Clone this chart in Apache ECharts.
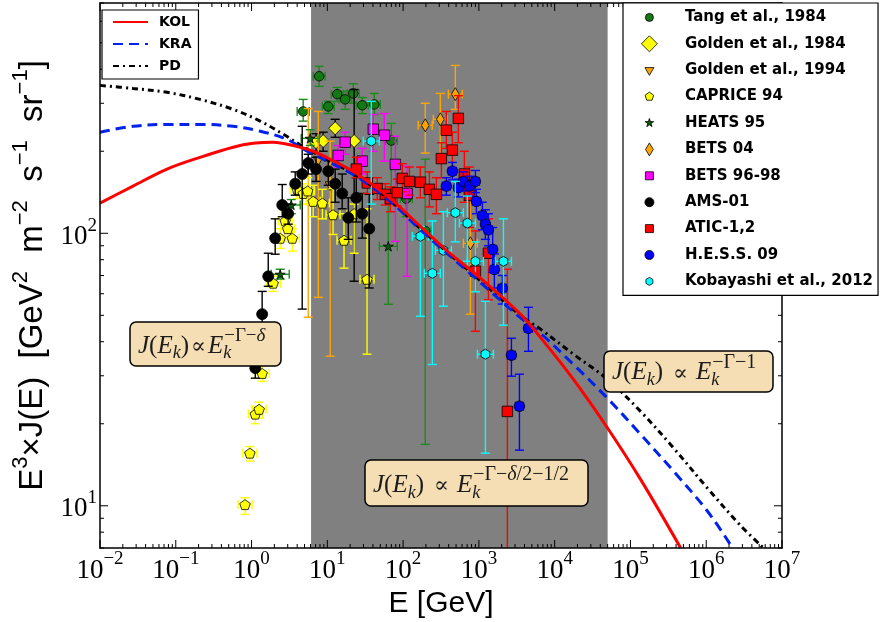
<!DOCTYPE html>
<html>
<head>
<meta charset="utf-8">
<title>Electron spectrum E^3 J(E)</title>
<script src="https://cdn.jsdelivr.net/npm/echarts@6.0.0/dist/echarts.min.js"></script>
<style>
  html, body { margin: 0; padding: 0; background: #fff; }
  #chart { width: 884px; height: 622px; }
</style>
</head>
<body>
<div id="chart"></div>
<script>
// ---------------- data ----------------
// Energy band shaded in grey (GeV)
const shadeRange = [6.1, 50000];

// Model curves (E in GeV, E^3 J(E))
const kolE = [0.01, 0.0273, 0.0767, 0.209, 0.571, 1.05, 1.93, 3.55, 6.5, 10.9, 24.8, 67.8, 169, 384, 1047, 3530, 6490, 17700, 49800, 136000, 460000];
const kolV = [129, 149, 172, 190, 207, 214, 216, 210, 200, 187, 165, 134, 106, 86, 68.4, 50.5, 41.5, 29.1, 19.3, 12.5, 7.0];
const kraE = [0.01, 0.0273, 0.0767, 0.209, 0.571, 1.30, 2.95, 5.42, 10, 24.8, 67.8, 169, 1047, 3530, 6490, 17700, 49800, 136000, 370000, 1040000, 2230000];
const kraV = [235, 247, 251, 251, 247, 237, 221, 200, 184, 161, 131, 103, 66, 49, 43, 33, 24.8, 18.3, 13.4, 9.55, 7.0];
const pdE = [0.01, 0.0273, 0.0767, 0.209, 0.571, 1.30, 2.62, 4.8, 10, 24.8, 67.8, 169, 1047, 3530, 6490, 17700, 49800, 136000, 370000, 1040000, 2800000, 5700000];
const pdV = [349, 340, 329, 310, 285, 258, 231, 208, 186, 162, 132, 104, 67, 50, 44.5, 36.0, 29.1, 22.2, 16.3, 11.6, 8.5, 7.0];

// Measurements: energy, E^3 J(E), lower and upper error bounds
const tangE  = [4.8, 7.8, 10.3, 13.5, 17.2, 22, 28.9, 41.7, 69.8, 110, 196];
const tangV  = [280, 377, 292, 324, 310, 326, 295, 297, 219, 134, 102];
const tangLo = [258, 346, 275, 305, 285, 300, 275, 273, 131, 115, 16.8];
const tangHi = [310, 410, 305, 343, 332, 354, 315, 326, 253, 155, 187];

const golden84E  = [7.1, 8.8, 12.7, 22.6];
const golden84V  = [216, 218, 243, 218];
const golden84Lo = [200, 200, 225, 66.7];
const golden84Hi = [232, 235, 262, 337];

const golden94E  = [5.6, 7.6, 10.9];
const golden94V  = [176, 184, 149];
const golden94Lo = [49.2, 58.2, 35.4];
const golden94Hi = [287, 280, 218];

const capriceE  = [0.82, 0.95, 1.12, 1.26, 1.38, 1.93, 2.39, 2.78, 3.0, 3.45, 4.0, 4.8, 5.5, 6.5, 8.6, 11.9, 16.6, 22.6, 33.4];
const capriceV  = [10.1, 15.6, 21.7, 22.6, 30.6, 65.6, 95.9, 111, 104, 95.9, 145, 140, 143, 131, 129, 117, 94.3, 118, 67.8];
const capriceLo = [9.3, 14.6, 20, 21, 28.6, 61.2, 88, 103, 97, 86, 134, 128, 128, 115, 113, 99, 74.5, 84.5, 36];
const capriceHi = [10.7, 16.5, 23, 24, 32.6, 69.6, 104, 120, 112, 104, 157, 152, 160, 150, 145, 146, 118, 128, 123];

const heatsE  = [2.39, 3.34, 5.94, 63.8];
const heatsV  = [70.7, 127, 223, 89.6];
const heatsLo = [67.9, 118, 210, 54.9];
const heatsHi = [73.8, 133, 240, 134];

const bets04E  = [196, 310, 489, 772];
const bets04V  = [249, 262, 324, 91.9];
const bets04Lo = [197, 184, 285, 50.5];
const bets04Hi = [300, 326, 413, 133];

const bets9698E  = [13.9, 17.2, 28.9, 40.4, 56.5, 79, 113];
const bets9698V  = [193, 216, 184, 241, 229, 179, 140];
const bets9698Lo = [175, 195, 165, 200, 184, 93.4, 69.6];
const bets9698Hi = [210, 235, 205, 273, 275, 227, 176];

const amsE  = [1.12, 1.38, 1.66, 2.05, 2.54, 3.04, 3.77, 4.66, 5.6, 7.1, 10.3, 12.7, 15.7, 18.9, 24.1, 28.9, 35.7];
const amsV  = [32, 50.5, 69.5, 95.9, 127, 118, 152, 165, 181, 172, 169, 152, 140, 114, 135, 118, 104];
const amsLo = [29.4, 43, 63.9, 83.8, 115, 108, 138, 52.7, 165, 155, 150, 130, 123, 95, 110, 96, 63];
const amsHi = [34.5, 61.2, 84.5, 113, 151, 128, 168, 247, 195, 190, 185, 172, 165, 135, 160, 140, 139];

const aticE  = [24.1, 33.7, 45.6, 58.2, 68, 83.7, 97.5, 121, 169, 222, 275, 320, 372, 447, 536, 643, 750, 899, 1337, 2377];
const aticV  = [172, 153, 146, 139, 134, 141, 159, 155, 154, 145, 139, 188, 239, 202, 264, 165, 138, 72.6, 84.5, 22.2];
const aticLo = [160, 140, 133, 127, 120, 126, 142, 138, 135, 125, 118, 160, 205, 170, 215, 130, 105, 43.7, 57, 3];
const aticHi = [190, 168, 160, 152, 148, 158, 180, 175, 175, 168, 160, 215, 280, 235, 320, 200, 175, 102, 113, 73.8];

const hessE  = [372, 447, 536, 624, 750, 899, 927, 1112, 1219, 1337, 1520, 1600, 2042, 2687, 3428, 4508];
const hessV  = [149, 169, 147, 155, 149, 155, 131, 116, 108, 103, 87.3, 73.7, 62.9, 35.7, 23.2, 44.8];
const hessLo = [138, 157, 136, 143, 137, 141, 118, 103, 95, 90, 72, 63, 55, 29.9, 16, 36.9];
const hessHi = [160, 182, 158, 168, 162, 170, 145, 130, 122, 118, 105, 84, 70, 41.2, 30.4, 53.5];

const kobE  = [38, 169, 243, 340, 489, 705, 899, 1219, 2108];
const kobV  = [218, 97.5, 71.3, 86.6, 119, 109, 78.9, 36, 78.9];
const kobLo = [128, 49.6, 33, 54, 93, 79, 61, 15.6, 46];
const kobHi = [305, 106, 111, 120, 155, 137, 93, 56.3, 113];

// ---------------- styling helpers ----------------
const MATH_FONT = '"Liberation Serif", "DejaVu Serif", serif';
const SANS_FONT = '"Liberation Sans", Arial, sans-serif';
const LEGEND_FONT = '"DejaVu Sans", sans-serif';

const SHAPES = {
  circle: 'M10,0A10,10,0,1,1,-10,0A10,10,0,1,1,10,0Z',
  square: 'M-10,-10L10,-10L10,10L-10,10Z',
  diamond: 'M0,-10L10,0L0,10L-10,0Z',
  thinDiamond: 'M0,-10L6,0L0,10L-6,0Z',
  triDown: 'M-10,-5.8L10,-5.8L0,11.5Z',
  pentagon: 'M0,-10L9.511,-3.09L5.878,8.09L-5.878,8.09L-9.511,-3.09Z',
  star: 'M0,-10L2.245,-3.09L9.511,-3.09L3.633,1.18L5.878,8.09L0,3.82L-5.878,8.09L-3.633,1.18L-9.511,-3.09L-2.245,-3.09Z',
  hexagon: 'M0,-10L8.66,-5L8.66,5L0,10L-8.66,5L-8.66,-5Z'
};
const LEGEND_BOX = 17;
// legend icon: shape drawn at `px` pixels inside a fixed icon box
function legendIcon(shape, px) {
  const h = (10 * LEGEND_BOX / px).toFixed(2);
  return 'path://M-' + h + ',-' + h + 'M' + h + ',' + h + SHAPES[shape];
}

const experiments = [
  { name: 'Tang et al., 1984', E: tangE, V: tangV, lo: tangLo, hi: tangHi, symbol: 'path://' + SHAPES.circle, size: 9.5, fill: '#127a12', bar: '#1d8a1d', hw: 6, icon: legendIcon('circle', 8) },
  { name: 'Golden et al., 1984', E: golden84E, V: golden84V, lo: golden84Lo, hi: golden84Hi, symbol: 'diamond', size: 13, fill: '#ffff00', bar: '#000000', hw: 0, icon: legendIcon('diamond', 16) },
  { name: 'Golden et al., 1994', E: golden94E, V: golden94V, lo: golden94Lo, hi: golden94Hi, symbol: 'path://' + SHAPES.triDown, size: 10, fill: '#ffa500', bar: '#ffa500', hw: 0, icon: legendIcon('triDown', 9) },
  { name: 'CAPRICE 94', E: capriceE, V: capriceV, lo: capriceLo, hi: capriceHi, symbol: 'path://' + SHAPES.pentagon, size: 10.5, fill: '#ffff00', bar: '#ffff00', hw: 7, icon: legendIcon('pentagon', 9) },
  { name: 'HEATS 95', E: heatsE, V: heatsV, lo: heatsLo, hi: heatsHi, symbol: 'path://' + SHAPES.star, size: 10, fill: '#0a5a0a', bar: '#1d8a1d', hw: 9, icon: legendIcon('star', 9) },
  { name: 'BETS 04', E: bets04E, V: bets04V, lo: bets04Lo, hi: bets04Hi, symbol: 'path://' + SHAPES.thinDiamond, size: 13, fill: '#ffa500', bar: '#ffa500', hw: 7, icon: legendIcon('thinDiamond', 13) },
  { name: 'BETS 96-98', E: bets9698E, V: bets9698V, lo: bets9698Lo, hi: bets9698Hi, symbol: 'rect', size: 10.5, fill: '#ff00ff', bar: '#ff00ff', hw: 0, icon: legendIcon('square', 8) },
  { name: 'AMS-01', E: amsE, V: amsV, lo: amsLo, hi: amsHi, symbol: 'path://' + SHAPES.circle, size: 11, fill: '#000000', bar: '#000000', hw: 0, icon: legendIcon('circle', 9) },
  { name: 'ATIC-1,2', E: aticE, V: aticV, lo: aticLo, hi: aticHi, symbol: 'rect', size: 10.5, fill: '#ff0000', bar: '#ff0000', hw: 3, icon: legendIcon('square', 8) },
  { name: 'H.E.S.S. 09', E: hessE, V: hessV, lo: hessLo, hi: hessHi, symbol: 'path://' + SHAPES.circle, size: 10.5, fill: '#0000ff', bar: '#0000ff', hw: 4, icon: legendIcon('circle', 9) },
  { name: 'Kobayashi et al., 2012', E: kobE, V: kobV, lo: kobLo, hi: kobHi, symbol: 'path://' + SHAPES.hexagon, size: 10, fill: '#00ffff', bar: '#00ffff', hw: 8, icon: legendIcon('hexagon', 8) }
];

function zip(xs, ys) { return xs.map((x, i) => [x, ys[i]]); }

// error bars with caps, vertical (lo..hi) and an optional horizontal bar
function errorBars(color, hw) {
  const cap = 4.5;
  return function (params, api) {
    const e = api.value(0), v = api.value(1);
    const c = api.coord([e, v]);
    const top = api.coord([e, api.value(3)])[1];
    const bot = api.coord([e, api.value(2)])[1];
    const st = { stroke: color, lineWidth: 1.4 };
    const kids = [
      { type: 'line', shape: { x1: c[0], y1: top, x2: c[0], y2: bot }, style: st },
      { type: 'line', shape: { x1: c[0] - cap, y1: top, x2: c[0] + cap, y2: top }, style: st },
      { type: 'line', shape: { x1: c[0] - cap, y1: bot, x2: c[0] + cap, y2: bot }, style: st }
    ];
    if (hw > 0) {
      kids.push({ type: 'line', shape: { x1: c[0] - hw, y1: c[1], x2: c[0] + hw, y2: c[1] }, style: st });
      kids.push({ type: 'line', shape: { x1: c[0] - hw, y1: c[1] - cap, x2: c[0] - hw, y2: c[1] + cap }, style: st });
      kids.push({ type: 'line', shape: { x1: c[0] + hw, y1: c[1] - cap, x2: c[0] + hw, y2: c[1] + cap }, style: st });
    }
    return { type: 'group', children: kids };
  };
}

// tick marks on all four sides of the frame (decades + 2..9 minors)
const tickData = [];
for (let k = -2; k <= 7; k++) {
  tickData.push([Math.pow(10, k), 100, 0, 8]);
  if (k < 7) for (let m = 2; m <= 9; m++) tickData.push([m * Math.pow(10, k), 100, 0, 4]);
}
for (let k = 0; k <= 2; k++) {
  for (let m = 1; m <= 9; m++) {
    const v = m * Math.pow(10, k);
    if (v < 7 || v > 700) continue;
    tickData.push([1, v, 1, m === 1 ? 8 : 4]);
  }
}
function renderTick(params, api) {
  const cs = params.coordSys;
  const len = api.value(3);
  const p = api.coord([api.value(0), api.value(1)]);
  const st = { stroke: '#000', lineWidth: 1 };
  if (api.value(2) === 0) {
    return { type: 'group', children: [
      { type: 'line', shape: { x1: p[0], y1: cs.y + cs.height, x2: p[0], y2: cs.y + cs.height - len }, style: st },
      { type: 'line', shape: { x1: p[0], y1: cs.y, x2: p[0], y2: cs.y + len }, style: st }
    ] };
  }
  return { type: 'group', children: [
    { type: 'line', shape: { x1: cs.x, y1: p[1], x2: cs.x + len, y2: p[1] }, style: st },
    { type: 'line', shape: { x1: cs.x + cs.width, y1: p[1], x2: cs.x + cs.width - len, y2: p[1] }, style: st }
  ] };
}

function decadeLabel(v) {
  const p = Math.log10(v), k = Math.round(p);
  if (Math.abs(p - k) > 1e-6) return '';
  return '{b|10}{e|' + String(k).replace('-', '\u2212') + '}';
}
const tickRich = {
  b: { fontFamily: MATH_FONT, fontSize: 27, lineHeight: 34, verticalAlign: 'bottom', color: '#000' },
  e: { fontFamily: MATH_FONT, fontSize: 19, lineHeight: 19, verticalAlign: 'top', color: '#000' }
};

// ---------------- formula boxes ----------------
const measureCtx = document.createElement('canvas').getContext('2d');
function mathFont(size, italic) { return (italic ? 'italic ' : '') + size + 'px ' + MATH_FONT; }
function textWidth(t, font) { measureCtx.font = font; return measureCtx.measureText(t).width; }

const BOX_Z = 100;
function formulaBox(id, box, tokens) {
  const els = [{ type: 'rect', id: id + '-frame', z: BOX_Z, shape: { x: box.x, y: box.y, width: box.w, height: box.h, r: 6 },
    style: { fill: '#f5deb3', stroke: '#000', lineWidth: 1.5 } }];
  const base = box.y + box.h * 0.74;
  let x = box.x + 8, subX = x, supX = x;
  tokens.forEach((tk, n) => {
    if (tk.gap) { x += tk.gap; supX = x; return; }
    const size = tk.size || 25;
    const font = mathFont(size, tk.it);
    const w = textWidth(tk.t, font);
    let px, bl;
    if (tk.pos === 'sub') { subX = x; px = x; bl = base + 5; x += w; supX = subX; }
    else if (tk.pos === 'sup') { px = supX + 1; bl = base - 12; supX += w; x = Math.max(x, supX); }
    else { px = x; bl = base; x += w; supX = x; }
    els.push({ type: 'text', id: id + '-t' + n, z: BOX_Z + 1, x: px, y: bl - 0.34 * size,
      style: { text: tk.t, font: font, fill: '#1c1c1c', textAlign: 'left', textVerticalAlign: 'middle' } });
  });
  return els;
}
function lhs(gapL, gapR) {
  return [
    { t: 'J', it: true }, { t: '(' }, { t: 'E', it: true }, { t: 'k', it: true, size: 18, pos: 'sub' }, { t: ')' },
    { gap: gapL }, { t: '\u221D', size: 22 }, { gap: gapR },
    { t: 'E', it: true }, { t: 'k', it: true, size: 18, pos: 'sub' }
  ];
}
const boxes = [].concat(
  formulaBox('eqLow', { x: 130, y: 322, w: 151, h: 44 },
    lhs(2, 2).concat([{ t: '\u2212\u0393\u2212', size: 19, pos: 'sup' }, { t: '\u03B4', it: true, size: 19, pos: 'sup' }])),
  formulaBox('eqHigh', { x: 604, y: 351, w: 169, h: 41 },
    lhs(10, 8).concat([{ t: '\u2212\u0393\u22121', size: 20, pos: 'sup' }])),
  formulaBox('eqMid', { x: 365, y: 460, w: 223, h: 46 },
    lhs(10, 8).concat([{ t: '\u2212\u0393\u2212', size: 20, pos: 'sup' }, { t: '\u03B4', it: true, size: 20, pos: 'sup' }, { t: '/2\u22121/2', size: 20, pos: 'sup' }]))
);

// ---------------- series ----------------
const series = [];
series.push({
  type: 'line', name: 'shade', data: [[1, 100]], symbol: 'none', silent: true, z: 1,
  lineStyle: { width: 0 },
  markArea: { silent: true, itemStyle: { color: '#808080' },
    data: [[{ xAxis: shadeRange[0] }, { xAxis: shadeRange[1] }]] }
});
experiments.forEach((d, i) => {
  series.push({
    type: 'custom', name: d.name + ' errors', silent: true, clip: true, z: 10 + 2 * i,
    renderItem: errorBars(d.bar, d.hw),
    data: d.E.map((e, j) => [e, d.V[j], d.lo[j], d.hi[j]])
  });
  series.push({
    type: 'scatter', name: d.name, silent: true, z: 11 + 2 * i,
    symbol: d.symbol, symbolSize: d.size, symbolKeepAspect: true,
    itemStyle: { color: d.fill, borderColor: '#000', borderWidth: 0.8, opacity: 1 },
    data: zip(d.E, d.V)
  });
});
series.push({ type: 'line', name: 'PD', data: zip(pdE, pdV), smooth: 0.35, symbol: 'none', silent: true, z: 40,
  color: '#000', lineStyle: { color: '#000', width: 3, type: [6, 4, 2, 4] } });
series.push({ type: 'line', name: 'KRA', data: zip(kraE, kraV), smooth: 0.35, symbol: 'none', silent: true, z: 41,
  color: '#0022ee', lineStyle: { color: '#0022ee', width: 3, type: [10, 6] } });
series.push({ type: 'line', name: 'KOL', data: zip(kolE, kolV), smooth: 0.35, symbol: 'none', silent: true, z: 42,
  color: '#ff0000', lineStyle: { color: '#ff0000', width: 3 } });
series.push({ type: 'custom', name: 'ticks', silent: true, z: 45, renderItem: renderTick, data: tickData });

const frameLine = { show: true, lineStyle: { color: '#000', width: 1.5 } };
const chart = echarts.init(document.getElementById('chart'), null, { renderer: 'canvas' });
chart.setOption({
  animation: false,
  backgroundColor: '#fff',
  grid: { left: 100, right: 102, top: 3, bottom: 74, containLabel: false, outerBoundsMode: 'none' },
  xAxis: [
    { type: 'log', logBase: 10, min: 0.01, max: 1e7, position: 'bottom', z: 50,
      axisLine: frameLine, axisTick: { show: false }, splitLine: { show: false },
      axisLabel: { formatter: decadeLabel, rich: tickRich, margin: 2, showMinLabel: true, showMaxLabel: true },
      name: 'E [GeV]', nameLocation: 'middle', nameGap: 36,
      nameTextStyle: { fontFamily: SANS_FONT, fontSize: 30, color: '#000' } },
    { type: 'log', logBase: 10, min: 0.01, max: 1e7, position: 'top', z: 50,
      axisLine: frameLine, axisTick: { show: false }, splitLine: { show: false }, axisLabel: { show: false } }
  ],
  yAxis: [
    { type: 'log', logBase: 10, min: 7, max: 700, position: 'left', z: 50,
      axisLine: frameLine, axisTick: { show: false }, splitLine: { show: false },
      axisLabel: { formatter: decadeLabel, rich: tickRich, margin: 3 },
      name: '{t|E}{s|3}{t|\u00D7J(E)  [GeV}{s|2}{t|  m}{s|\u22122}{t|  s}{s|\u22121}{t|  sr}{s|\u22121}{t|]}',
      nameLocation: 'middle', nameRotate: 90, nameGap: 45,
      nameTextStyle: { rich: {
        t: { fontFamily: SANS_FONT, fontSize: 33, lineHeight: 40, verticalAlign: 'bottom', color: '#000' },
        s: { fontFamily: SANS_FONT, fontSize: 22, lineHeight: 22, verticalAlign: 'top', color: '#000' } } } },
    { type: 'log', logBase: 10, min: 7, max: 700, position: 'right', z: 50,
      axisLine: frameLine, axisTick: { show: false }, splitLine: { show: false }, axisLabel: { show: false } }
  ],
  legend: [
    { data: ['KOL', 'KRA', 'PD'], orient: 'vertical', left: 102, top: 10, z: 100,
      padding: [5, 7, 6, 10], itemWidth: 35, itemHeight: 14, itemGap: 8, selectedMode: false,
      itemStyle: { opacity: 0 },
      backgroundColor: '#fff', borderColor: '#000', borderWidth: 1.2, borderRadius: 0,
      textStyle: { fontFamily: LEGEND_FONT, fontWeight: 'bold', fontSize: 14, color: '#000', padding: [0, 0, 0, 6] } },
    { data: experiments.map(d => ({ name: d.name, icon: d.icon })), orient: 'vertical', left: 623, top: 3, z: 100,
      padding: [5.5, 5, 5, 17.5], itemWidth: LEGEND_BOX, itemHeight: LEGEND_BOX, itemGap: 8.6, selectedMode: false,
      symbolKeepAspect: true,
      itemStyle: { borderColor: '#000', borderWidth: 0.8 },
      backgroundColor: '#fff', borderColor: '#000', borderWidth: 1.2, borderRadius: 0,
      textStyle: { fontFamily: LEGEND_FONT, fontWeight: 'bold', fontSize: 15, lineHeight: 17, color: '#000', padding: [0, 0, 0, 22] } }
  ],
  graphic: { elements: boxes },
  series: series
});
</script>
</body>
</html>
